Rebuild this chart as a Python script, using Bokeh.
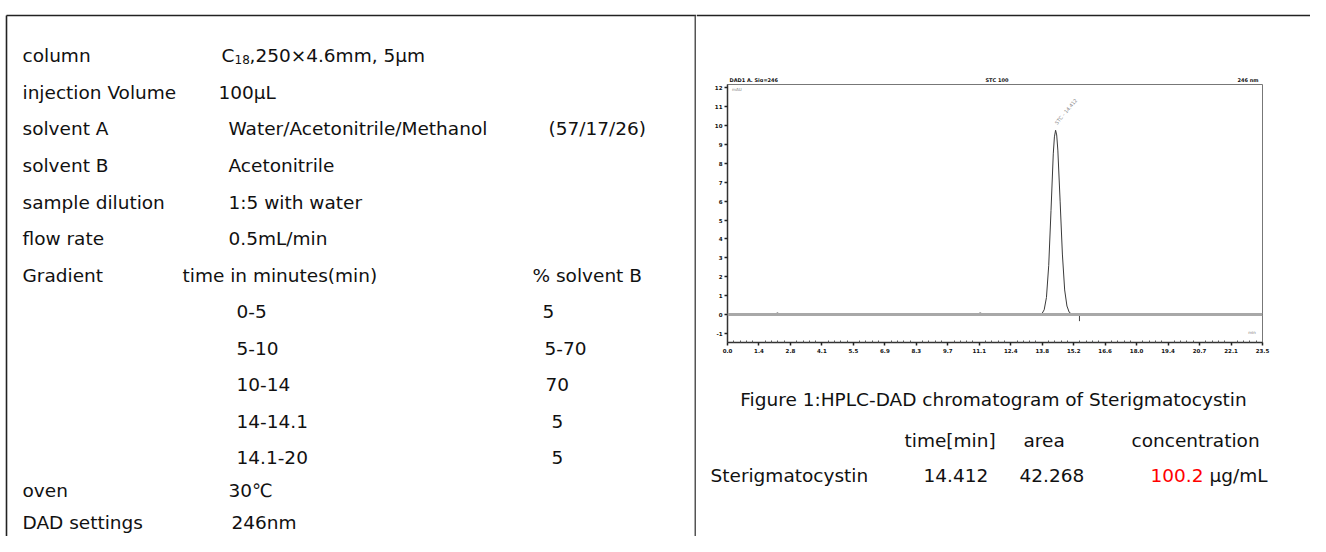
import math
from bokeh.plotting import figure
from bokeh.layouts import row, column
from bokeh.models import Range1d, FixedTicker, Label, Span
from bokeh.core.properties import value
from bokeh.embed import file_html
from bokeh.resources import INLINE

# ---------------- data ----------------
param_names = ["column", "injection Volume", "solvent A", "solvent B",
               "sample dilution", "flow rate", "Gradient", "oven", "DAD settings"]
column_phase = "C"
column_phase_sub = "18"
column_spec = ",250×4.6mm, 5μm"
injection_volume = "100μL"
solvent_a = "Water/Acetonitrile/Methanol"
solvent_a_ratio = "(57/17/26)"
solvent_b = "Acetonitrile"
sample_dilution = "1:5 with water"
flow_rate = "0.5mL/min"
gradient_headers = ["time in minutes(min)", "% solvent B"]
gradient_times = ["0-5", "5-10", "10-14", "14-14.1", "14.1-20"]
gradient_solvent_b = ["5", "5-70", "70", "5", "5"]
oven_temp = "30℃"
dad_wavelength = "246nm"

figure_caption = "Figure 1:HPLC-DAD chromatogram of Sterigmatocystin"
result_headers = ["time[min]", "area", "concentration"]
analyte = "Sterigmatocystin"
retention_time = "14.412"
peak_area = "42.268"
concentration = "100.2"
conc_unit = "μg/mL"

# chromatogram trace (time in min, signal)
chrom_time = [0.0, 2.0, 2.2, 2.35, 2.5, 6.0, 10.9, 11.1, 11.3, 11.5, 13.5, 13.81,
              13.91, 14.01, 14.11, 14.21, 14.31, 14.36, 14.412, 14.46, 14.51, 14.61,
              14.71, 14.81, 14.91, 15.01, 15.11, 15.3, 18.0, 23.5]
chrom_signal = [0.0, 0.0, 0.08, 0.0, 0.0, 0.0, 0.0, 0.08, 0.0, 0.0, 0.0, 0.04,
                0.25, 0.9, 2.6, 5.5, 8.5, 9.4, 9.75, 9.5, 8.7, 6.0,
                3.2, 1.3, 0.45, 0.12, 0.03, 0.0, 0.0, 0.0]
peak_apex_time = 14.412
peak_apex_signal = 9.75
peak_label = "STC - 14.412"
integration_start = 13.62
integration_end = 15.73
integration_mark = 15.46

x_ticks = [0.0, 1.382, 2.765, 4.147, 5.529, 6.912, 8.294, 9.676, 11.059, 12.441,
           13.824, 15.206, 16.588, 17.971, 19.353, 20.735, 22.118, 23.5]
x_tick_labels = ["0.0", "1.4", "2.8", "4.1", "5.5", "6.9", "8.3", "9.7", "11.1", "12.4",
                 "13.8", "15.2", "16.6", "18.0", "19.4", "20.7", "22.1", "23.5"]
y_ticks = [-1, 0, 1, 2, 3, 4, 5, 6, 7, 8, 9, 10, 11, 12]
y_tick_labels = ["-1", "0", "1", "2", "3", "4", "5", "6", "7", "8", "9", "10", "11", "12"]
header_texts = ["DAD1 A, Sig=246", "STC 100", "246 nm"]
unit_y = "mAU"
unit_x = "min"

# ---------------- styles / layout ----------------
FONT = value("DejaVu Sans")
FS = "18.5px"
TXT = "#111111"


def blank(width, height, xr, yr):
    p = figure(width=width, height=height, x_range=Range1d(*xr), y_range=Range1d(*yr),
               x_axis_type=None, y_axis_type=None, toolbar_location=None,
               output_backend="svg", min_border=0, outline_line_color=None,
               background_fill_color="white", border_fill_color="white",
               frame_align=False)
    p.grid.visible = False
    return p


def put(p, xs, ys, texts, size=FS, color=TXT, align="left", style="normal"):
    p.text(x=xs, y=ys, text=texts, text_font=FONT, text_font_size=size,
           text_baseline="middle", text_align=align, text_color=color,
           text_font_style=style)


# ---- left panel (coordinates = picture pixels) ----
left = blank(696, 536, (0, 696), (536, 0))
left.segment(x0=[6, 6], y0=[15, 15], x1=[696, 6], y1=[15, 536], line_color="#222222", line_width=1.6)
left.segment(x0=[695], y0=[15], x1=[695], y1=[536], line_color="#555555", line_width=2)

name_rows = [55, 92, 128, 165, 202, 238, 275, 490, 522]
put(left, [22] * len(param_names), name_rows, param_names)
put(left, [218, 228, 228, 228, 228, 228, 231],
    [92, 128, 165, 202, 238, 490, 522],
    [injection_volume, solvent_a, solvent_b, sample_dilution, flow_rate, oven_temp, dad_wavelength])
put(left, [221], [55], [column_phase])
put(left, [234], [59], [column_phase_sub], size="12px")
put(left, [249], [55], [column_spec])
put(left, [548], [128], [solvent_a_ratio])
put(left, [182, 532], [275, 275], gradient_headers)
grad_rows = [311, 348, 384, 421, 457]
put(left, [236] * 5, grad_rows, gradient_times)
put(left, [542, 544, 545, 551, 551], grad_rows, gradient_solvent_b)

# ---- right top strip ----
strip = blank(614, 82, (696, 1310), (82, 0))
strip.segment(x0=[696], y0=[15], x1=[1310], y1=[15], line_color="#222222", line_width=1.6)
put(strip, [729, 985, 1237], [79, 79, 79], header_texts, size="5px", style="bold")

# ---- chromatogram ----
chrom = figure(width=614, height=290, x_range=Range1d(0, 23.5), y_range=Range1d(-1.48, 12.17),
               toolbar_location=None, output_backend="svg",
               min_border_left=31, min_border_right=48, min_border_top=2, min_border_bottom=30,
               background_fill_color="white", border_fill_color="white",
               outline_line_color="#777777", outline_line_width=1, frame_align=False)
chrom.grid.visible = False
minor = []
for a, b in zip(x_ticks[:-1], x_ticks[1:]):
    minor += [a + (b - a) * k / 5 for k in range(1, 5)]
chrom.xaxis.ticker = FixedTicker(ticks=x_ticks, minor_ticks=minor)
chrom.xaxis.major_label_overrides = {t: l for t, l in zip(x_ticks, x_tick_labels)}
chrom.yaxis.ticker = FixedTicker(ticks=y_ticks, minor_ticks=[])
chrom.yaxis.major_label_overrides = {t: l for t, l in zip(y_ticks, y_tick_labels)}
for ax in (chrom.xaxis[0], chrom.yaxis[0]):
    ax.axis_line_color = "#333333"
    ax.axis_line_width = 1.5
    ax.major_tick_line_color = "#222222"
    ax.major_tick_line_width = 1.5
    ax.major_tick_out = 3
    ax.major_tick_in = 0
    ax.minor_tick_line_color = "#555555"
    ax.minor_tick_in = 2
    ax.minor_tick_out = 0
    ax.major_label_text_font = "DejaVu Sans"
    ax.major_label_text_font_size = "5.5px"
    ax.major_label_text_font_style = "bold"
    ax.major_label_text_color = "#111111"
    ax.major_label_standoff = 2

chrom.add_layout(Span(location=0, dimension="width", line_color="#a8a8a8", line_width=3))
chrom.line(chrom_time, chrom_signal, line_color="#3a3a3a", line_width=1)
chrom.segment(x0=[integration_start], y0=[0], x1=[integration_end], y1=[0],
              line_color="#ff5a5a", line_width=1.2)
chrom.segment(x0=[integration_mark], y0=[0], x1=[integration_mark], y1=[-0.35],
              line_color="#444444", line_width=1)
chrom.text(x=[peak_apex_time], y=[peak_apex_signal + 0.35], text=[peak_label],
           angle=math.radians(50), text_font=FONT, text_font_size="5px",
           text_color="#888888", text_baseline="middle")
chrom.add_layout(Label(x=0.2, y=11.75, text=unit_y, text_font="DejaVu Sans",
                       text_font_size="4px", text_color="#777777"))
chrom.add_layout(Label(x=23.2, y=-1.1, text=unit_x, text_font="DejaVu Sans",
                       text_font_size="4px", text_color="#777777", text_align="right"))

# ---- caption / results ----
cap = blank(614, 164, (696, 1310), (536, 372))
put(cap, [993], [399], [figure_caption], align="center")
put(cap, [904, 1023, 1131], [440, 440, 440], result_headers)
put(cap, [710, 923, 1019, 1209], [475] * 4, [analyte, retention_time, peak_area, conc_unit])
put(cap, [1150], [475], [concentration], color="#ff0000")

layout = row(left, column(strip, chrom, cap))
open("out.html", "w").write(file_html(layout, INLINE))
